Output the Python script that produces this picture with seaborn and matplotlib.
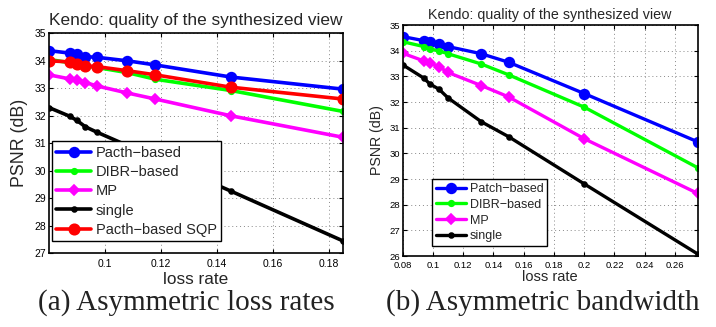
import numpy as np
import pandas as pd
import matplotlib
matplotlib.use("Agg")
import matplotlib.pyplot as plt
import seaborn as sns

# (a) asymmetric loss rates
loss_a = [0.08, 0.0875, 0.09, 0.093, 0.097, 0.108, 0.118, 0.145, 0.185]
patch_a = [34.37, 34.28, 34.25, 34.15, 34.13, 34.00, 33.85, 33.41, 32.97]
dibr_a = [34.05, 33.93, 33.88, 33.80, 33.76, 33.57, 33.33, 32.92, 32.16]
mp_a = [33.49, 33.34, 33.31, 33.21, 33.09, 32.83, 32.61, 32.00, 31.22]
single_a = [32.30, 31.98, 31.83, 31.60, 31.41, 30.92, 30.47, 29.26, 27.45]
sqp_a = [34.00, 33.96, 33.90, 33.82, 33.79, 33.64, 33.49, 33.04, 32.61]

# (b) asymmetric bandwidth
loss_b = [0.08, 0.094, 0.098, 0.104, 0.11, 0.132, 0.15, 0.2, 0.275]
patch_b = [34.55, 34.39, 34.33, 34.26, 34.16, 33.88, 33.55, 32.33, 30.45]
dibr_b = [34.35, 34.16, 34.07, 33.99, 33.88, 33.48, 33.06, 31.80, 29.44]
mp_b = [33.90, 33.60, 33.52, 33.38, 33.15, 32.64, 32.20, 30.57, 28.44]
single_b = [33.45, 32.93, 32.70, 32.50, 32.16, 31.23, 30.65, 28.81, 26.08]

title = "Kendo: quality of the synthesized view"

sns.set_theme(style="ticks")
plt.rcParams["font.family"] = ["Liberation Sans", "DejaVu Sans"]

fig = plt.figure(figsize=(7.16, 3.27), dpi=100)
ax1 = fig.add_axes([0.0684, 0.2254, 0.4106, 0.6727])
ax2 = fig.add_axes([0.5624, 0.2171, 0.4120, 0.7064])

styles = {
    "blue": dict(color="#0000ff", marker="o", markersize=7),
    "green": dict(color="#00ff00", marker=".", markersize=8),
    "magenta": dict(color="#ff00ff", marker="D", markersize=5.5),
    "black": dict(color="#000000", marker=".", markersize=7),
    "red": dict(color="#ff0000", marker="o", markersize=7.5),
}


def draw(ax, x, series, lw):
    for label, y, key in series:
        df = pd.DataFrame({"loss": x, "psnr": y})
        sns.lineplot(data=df, x="loss", y="psnr", ax=ax, label=label,
                     linewidth=lw, markeredgewidth=1.2,
                     markeredgecolor=styles[key]["color"], **styles[key])


def style_axes(ax, tick_fs):
    ax.grid(True, linestyle=(0, (1, 3)), color="#888888", linewidth=0.7)
    ax.tick_params(direction="in", top=True, right=True, length=3,
                   labelsize=tick_fs, colors="black", width=0.8, pad=2)
    ax.tick_params(axis="x", pad=4)
    for sp in ax.spines.values():
        sp.set_linewidth(1.2)
        sp.set_color("black")


draw(ax1, loss_a, [("Pacth\u2212based", patch_a, "blue"),
                   ("DIBR\u2212based", dibr_a, "green"),
                   ("MP", mp_a, "magenta"),
                   ("single", single_a, "black"),
                   ("Pacth\u2212based SQP", sqp_a, "red")], 2.6)
ax1.set_xlim(0.08, 0.185)
ax1.set_ylim(27, 35)
ax1.set_xticks([0.1, 0.12, 0.14, 0.16, 0.18])
ax1.set_xticklabels(["0.1", "0.12", "0.14", "0.16", "0.18"])
ax1.set_yticks(range(27, 36))
style_axes(ax1, 7.5)
ax1.set_title(title, fontsize=12.4, pad=6)
ax1.set_xlabel("loss rate", fontsize=12.4, labelpad=2)
ax1.set_ylabel("PSNR (dB)", fontsize=12.8, labelpad=5)
leg1 = ax1.legend(loc="lower left", bbox_to_anchor=(0.01, 0.055),
                  fontsize=10.5, handlelength=2.4, labelspacing=0.36,
                  borderaxespad=0, borderpad=0.3, handletextpad=0.3,
                  fancybox=False, framealpha=1)
leg1.get_frame().set_edgecolor("black")
leg1.get_frame().set_linewidth(1.0)

draw(ax2, loss_b, [("Patch\u2212based", patch_b, "blue"),
                   ("DIBR\u2212based", dibr_b, "green"),
                   ("MP", mp_b, "magenta"),
                   ("single", single_b, "black")], 2.4)
ax2.set_xlim(0.08, 0.275)
ax2.set_ylim(26, 35)
ticks_b = [0.08, 0.1, 0.12, 0.14, 0.16, 0.18, 0.2, 0.22, 0.24, 0.26]
ax2.set_xticks(ticks_b)
ax2.set_xticklabels([f"{t:g}" for t in ticks_b])
ax2.set_yticks(range(26, 36))
style_axes(ax2, 6.8)
ax2.tick_params(axis="x", pad=3.5)
ax2.set_title(title, fontsize=10.3, pad=4)
ax2.set_xlabel("loss rate", fontsize=10.5, labelpad=0)
ax2.set_ylabel("PSNR (dB)", fontsize=10.2, labelpad=4)
leg2 = ax2.legend(loc="lower left", bbox_to_anchor=(0.1, 0.043),
                  fontsize=9, handlelength=2.4, labelspacing=0.3,
                  borderaxespad=0, borderpad=0.3, handletextpad=0.3,
                  fancybox=False, framealpha=1)
leg2.get_frame().set_edgecolor("black")
leg2.get_frame().set_linewidth(1.0)

serif = ["Liberation Serif", "DejaVu Serif"]
fig.text(186.5 / 716, 1 - 303 / 327, "(a) Asymmetric loss rates",
         family=serif, fontsize=21, ha="center", va="center", color="#222222")
fig.text(543 / 716, 1 - 303 / 327, "(b) Asymmetric bandwidth",
         family=serif, fontsize=21, ha="center", va="center", color="#222222")

fig.savefig("out.png", dpi=100)
